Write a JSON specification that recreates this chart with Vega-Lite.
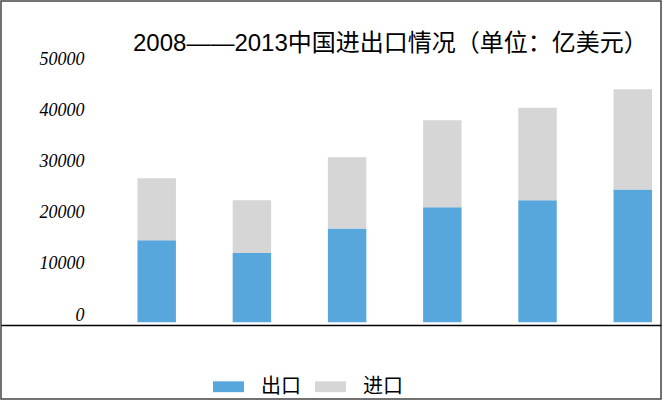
{
  "$schema": "https://vega.github.io/schema/vega-lite/v6.json",
  "width": 660,
  "height": 398,
  "autosize": {"type": "none"},
  "padding": {"left": 1, "top": 1, "right": 4, "bottom": 4},
  "background": "white",
  "title": {
    "text": "2008——2013中国进出口情况（单位：亿美元）",
    "orient": "top",
    "anchor": "start",
    "frame": "group",
    "dx": 132,
    "offset": -67,
    "baseline": "middle",
    "font": "Liberation Sans, Noto Sans CJK SC",
    "fontSize": 24,
    "fontWeight": "normal",
    "color": "#000000"
  },
  "data": {
    "values": [
      {"year": "2008", "type": "出口", "value": 16000},
      {"year": "2008", "type": "进口", "value": 12100},
      {"year": "2009", "type": "出口", "value": 13500},
      {"year": "2009", "type": "进口", "value": 10300},
      {"year": "2010", "type": "出口", "value": 18300},
      {"year": "2010", "type": "进口", "value": 13900},
      {"year": "2011", "type": "出口", "value": 22450},
      {"year": "2011", "type": "进口", "value": 16950},
      {"year": "2012", "type": "出口", "value": 23800},
      {"year": "2012", "type": "进口", "value": 18050},
      {"year": "2013", "type": "出口", "value": 25900},
      {"year": "2013", "type": "进口", "value": 19550}
    ]
  },
  "mark": {"type": "bar", "stroke": null},
  "encoding": {
    "x": {
      "field": "year",
      "type": "nominal",
      "scale": {"paddingInner": 0.596, "paddingOuter": 0.764, "align": 0.938},
      "axis": {
        "title": null,
        "labels": false,
        "ticks": false,
        "domain": true,
        "domainColor": "#000000",
        "domainWidth": 1.5,
        "offset": -74,
        "grid": false
      }
    },
    "y": {
      "field": "value",
      "type": "quantitative",
      "stack": "zero",
      "scale": {"domain": [-15000, 62700], "nice": false, "zero": false},
      "axis": {
        "title": null,
        "values": [0, 10000, 20000, 30000, 40000, 50000],
        "format": "d",
        "domain": false,
        "ticks": false,
        "grid": false,
        "offset": -83,
        "labelPadding": 0,
        "labelOffset": -7,
        "labelFont": "Liberation Serif",
        "labelFontStyle": "italic",
        "labelFontSize": 18,
        "labelColor": "#000000"
      }
    },
    "color": {
      "field": "type",
      "type": "nominal",
      "scale": {"domain": ["出口", "进口"], "range": ["#57A7DD", "#D6D6D6"]},
      "legend": {
        "title": null,
        "orient": "none",
        "direction": "horizontal",
        "legendX": 212,
        "legendY": 370,
        "padding": 0,
        "symbolType": "M-1,-0.35H1V0.35H-1Z",
        "symbolSize": 961,
        "symbolStrokeWidth": 0,
        "labelOffset": 17,
        "columnPadding": 14,
        "labelFont": "Noto Sans CJK SC",
        "labelFontSize": 20,
        "labelColor": "#000000"
      }
    },
    "order": {"field": "type", "sort": "ascending"}
  },
  "config": {
    "view": {"stroke": "#444444", "strokeWidth": 1.5}
  }
}
